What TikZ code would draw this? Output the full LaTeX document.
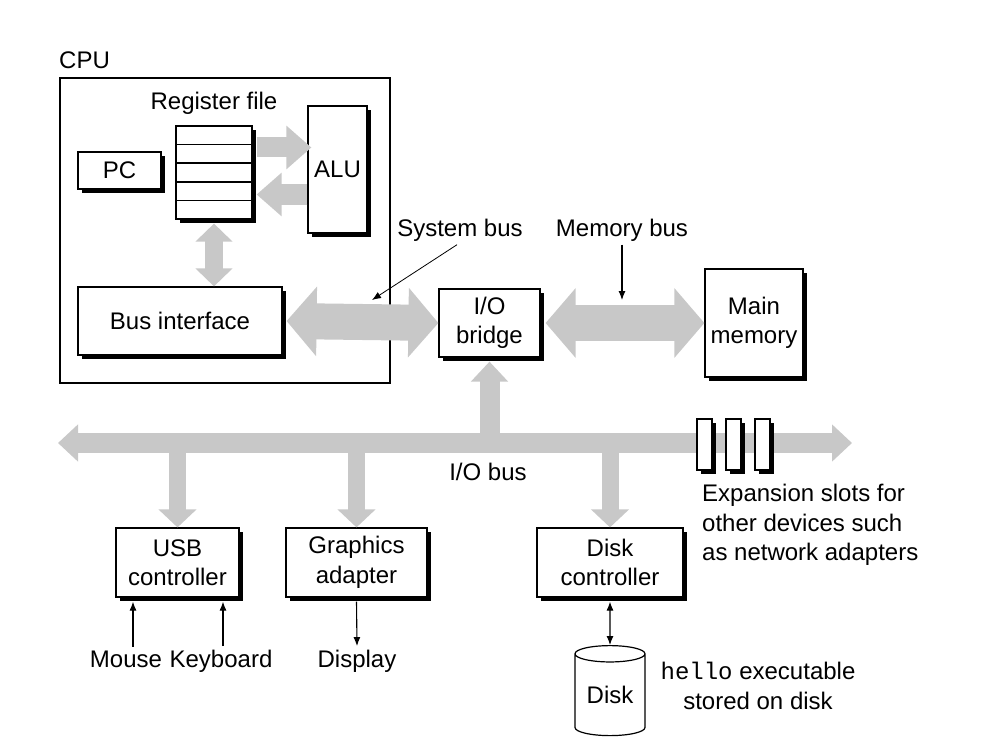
\documentclass[tikz,border=0pt]{standalone}
\usepackage{fontspec}
\setmainfont{Liberation Sans}
\setmonofont{Liberation Mono}
\usetikzlibrary{shadows,arrows.meta,shapes.geometric,calc}
\definecolor{busgray}{RGB}{200,200,200}

\begin{document}
\begin{tikzpicture}[x=1pt,y=-1pt,
  font=\fontsize{24}{29.5}\selectfont,
  box/.style={draw, line width=1.2pt, fill=white, align=center, inner sep=0pt,
    drop shadow={shadow xshift=4pt, shadow yshift=-4pt, fill=black, opacity=1}},
  bus/.style={draw=busgray},
  ptr/.style={line width=1.1pt, -{Latex[length=9pt,width=7pt]}}]
  \fill[white] (0,0) rectangle (983,749);
  \useasboundingbox (0,0) rectangle (983,749);

  % CPU
  \node[draw, line width=2pt, minimum width=330, minimum height=305, inner sep=0pt] (cpu) at (225,230.5) {};
  \node[anchor=base west, inner sep=0pt] at ([yshift=8pt]cpu.north west) {CPU};
  \node (regtitle) at (214,103) {Register file};
  \node[box, minimum width=76, minimum height=93] (regfile) at (214,172.5) {};
  \foreach \f in {0.2,0.4,0.6,0.8}
    \draw[line width=1.2pt] ($(regfile.north west)!\f!(regfile.south west)$) -- ($(regfile.north east)!\f!(regfile.south east)$);
  \node[box, minimum width=83, minimum height=37] (pc) at (119.5,170.5) {PC};
  \node[box, minimum width=59, minimum height=127] (alu) at (337.5,169.5) {ALU};
  \node[box, minimum width=204, minimum height=68] (busif) at (180,321) {Bus interface};

  % bridge and memory
  \node[box, minimum width=101, minimum height=68] (iobridge) at (489.5,323) {I/O\\bridge};
  \node[box, minimum width=98, minimum height=108] (mainmem) at (754,323) {Main\\memory};

  % devices
  \node[box, minimum width=123, minimum height=69] (usb) at (177.5,562.5) {USB\\controller};
  \node[box, minimum width=141, minimum height=69] (graphics) at (356.5,562.5) {Graphics\\adapter};
  \node[box, minimum width=146, minimum height=69] (diskctl) at (610,562.5) {Disk\\controller};
  \node[draw, line width=1.2pt, fill=white, cylinder, shape border rotate=90, aspect=0.35,
    minimum width=70, minimum height=90, inner sep=0pt] (disk) at (610,695) {Disk};

  % buses
  \draw[bus, line width=20pt, -{Triangle[length=25pt,width=42pt]}]
    ([xshift=4pt,yshift=25pt]regfile.east) -- ([xshift=4pt,yshift=25pt]regfile.east -| alu.west);
  \draw[bus, line width=20pt, -{Triangle[length=25pt,width=42pt]}]
    ([yshift=-25pt]alu.west) -- ([xshift=4pt,yshift=-25pt]alu.west -| regfile.east);
  \draw[bus, line width=18pt, {Triangle[length=18pt,width=36pt]}-{Triangle[length=18pt,width=36pt]}]
    ([yshift=-4pt]regfile.south) -- (regfile.south |- busif.north);
  \draw[bus, line width=36pt, {Triangle[length=30pt,width=68pt]}-{Triangle[length=30pt,width=68pt]}]
    ([xshift=4pt]busif.east) -- (iobridge.west);
  \draw[bus, line width=36pt, {Triangle[length=30pt,width=68pt]}-{Triangle[length=30pt,width=68pt]}]
    ([xshift=5pt]iobridge.east) -- (mainmem.west);

  \coordinate (busL) at (58,443);
  \coordinate (busR) at (852,443);
  \draw[bus, line width=20pt, {Triangle[length=20pt,width=36pt]}-{Triangle[length=20pt,width=36pt]}] (busL) -- (busR);
  \draw[bus, line width=20pt, -{Triangle[length=20pt,width=36pt]}] (iobridge.south |- busL) -- ([yshift=-4pt]iobridge.south);
  \foreach \n in {usb,graphics,diskctl}
    \draw[bus, line width=17pt, -{Triangle[length=18pt,width=37pt]}] (\n.north |- busL) -- (\n.north);
  \foreach \x [count=\i] in {704.5,733.5,762.5}
    \node[box, minimum width=15, minimum height=51] (slot\i) at (\x,444.5) {};

  % labels
  \node (sysbuslbl) at (460,230) {System bus};
  \coordinate (sbpt) at (372,300);
  \draw[ptr, line width=0.8pt] ([xshift=-3pt]sysbuslbl.south) -- (sbpt);
  \node (membuslbl) at (622,230) {Memory bus};
  \coordinate (mbpt) at (622,300);
  \draw[ptr] (membuslbl.south) -- (mbpt);
  \node (iobuslbl) at (488,472) {I/O bus};
  \node[anchor=west, align=left, inner sep=0pt] (expslots) at (702,525) {Expansion slots for\\other devices such\\as network adapters};

  \node[anchor=base] (mouse) at (126,667) {Mouse};
  \node[anchor=base] (keyboard) at (221,667) {Keyboard};
  \node[anchor=base] (display) at (357,667) {Display};
  \draw[ptr] ([xshift=7pt]mouse.north) -- ([xshift=7pt,yshift=-4pt]mouse.north |- usb.south);
  \draw[ptr] ([xshift=2pt]keyboard.north) -- ([xshift=2pt,yshift=-4pt]keyboard.north |- usb.south);
  \draw[ptr] ([yshift=-4pt]graphics.south) -- (display.north);
  \draw[ptr, {Latex[length=9pt,width=7pt]}-{Latex[length=9pt,width=7pt]}] ([yshift=-4pt]diskctl.south) -- (disk.north);
  \node[align=center] (hello) at (758,686) {\texttt{hello} executable\\stored on disk};
\end{tikzpicture}
\end{document}
